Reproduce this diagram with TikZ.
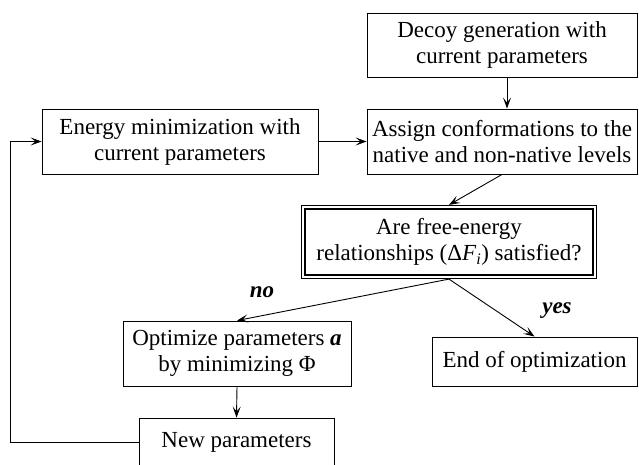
\documentclass[tikz,border=0pt]{standalone}
\usepackage{fontspec}
\setmainfont{Liberation Serif}[Ligatures=TeX]
\newfontfamily\timesf{Liberation Serif}
\usetikzlibrary{arrows.meta,calc}
\tikzset{
  box/.style={draw, line width=0.9pt, align=center, inner sep=0pt,
    font=\timesf\fontsize{23}{26}\selectfont},
  conn/.style={line width=0.9pt, -{Stealth[length=11pt,width=8pt,inset=5pt]}},
  lbl/.style={font=\timesf\fontsize{23}{26}\selectfont\bfseries\itshape}
}
\begin{document}
\begin{tikzpicture}[x=1pt,y=-1pt]
\useasboundingbox (0,0) rectangle (639,464);
\clip (0,0) rectangle (639,464);
\node[box, minimum width=270pt, minimum height=64pt] (decoy) at (502,45) {Decoy generation with\\current parameters};
\node[box, minimum width=276pt, minimum height=65pt] (energy) at (180,141.5) {Energy minimization with\\current parameters};
\node[box, minimum width=270pt, minimum height=65pt] (assign) at (502,141.5) {Assign conformations to the\\native and non-native levels};
\node[box, line width=1.2pt, minimum width=295pt, minimum height=73pt] (dbl) at (449,242) {Are free-energy\\relationships (Δ\textit{F}\textsubscript{\textit{i}}) satisfied?};
\draw[line width=1.8pt] ($(dbl.north west)+(4,4)$) rectangle ($(dbl.south east)+(-4,-4)$);
\node[box, minimum width=228pt, minimum height=65pt] (opt) at (237,353.5) {Optimize parameters \textbf{\textit{a}}\\by minimizing Φ};
\node[box, minimum width=205pt, minimum height=49pt] (endo) at (534.5,361.5) {End of optimization};
\node[box, minimum width=195pt, minimum height=48pt] (newp) at (236.5,442) {New parameters};
\coordinate (lc) at (10,141.5);
\draw[conn] ($(decoy.south)+(5,0)$) -- ($(assign.north)+(5,0)$);
\draw[conn] (energy.east) -- (assign.west);
\draw[conn] (assign.south) -- (dbl.north);
\draw[conn] (dbl.south) -- (opt.north);
\draw[conn] (dbl.south) -- (endo.north);
\draw[conn] (opt.south) -- (newp.north);
\draw[conn] (newp.west) -| (lc) -- (energy.west);
\node[lbl] (no) at (262,292) {no};
\node[lbl] (yes) at (557,311) {yes};
\end{tikzpicture}
\end{document}
